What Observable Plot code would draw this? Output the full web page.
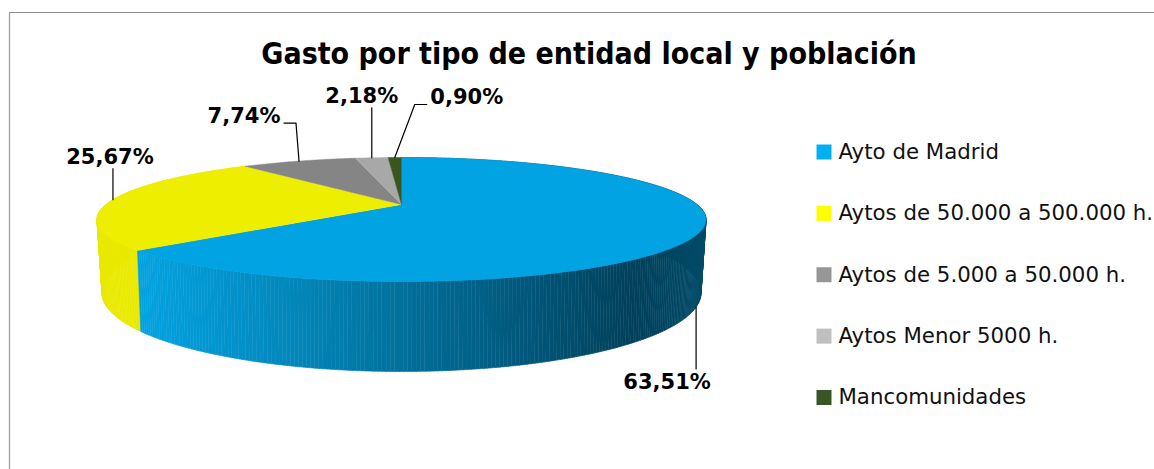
<!DOCTYPE html>
<html>
<head>
<meta charset="utf-8">
<script src="https://cdn.jsdelivr.net/npm/d3@7"></script>
<script src="https://cdn.jsdelivr.net/npm/@observablehq/plot@0.6"></script>
<style>
html,body{margin:0;padding:0;background:#fff}
svg{display:block}
</style>
</head>
<body>
<div id="chart"></div>
<script>
const categories = ["Ayto de Madrid","Aytos de 50.000 a 500.000 h.","Aytos de 5.000 a 50.000 h.","Aytos Menor 5000 h.","Mancomunidades"];
const shares = [63.51,25.67,7.74,2.18,0.90];
const shareLabels = ["63,51%","25,67%","7,74%","2,18%","0,90%"];
const title = "Gasto por tipo de entidad local y población";

const legendColors = ["#00b0f0","#ffff00","#969696","#bfbfbf","#375623"];
const topColors = ["#02a3e2","#eeee00","#858585","#a8a8a8","#3a5520"];
const wallColors = ["url(#wallBlue)","#eaea00","#7a7a7a","#999","#33491c"];

// Perspective view of the pie: top and bottom rims.
const topRim = {cx:401, cy:204, a:295.5, b:58.4, k:0.242};
const botRim = {cx:401, cy:272.6, a:290, b:73.8, k:0.25};
const project = (r, t) => {
  const u = Math.sin(t), v = Math.cos(t), w = 1 + r.k * v;
  return [r.cx + r.a * u / w, r.cy - r.b * v / w];
};
const total = d3.sum(shares);
const cum = d3.cumsum(shares);
const slices = shares.map((s, i) => {
  const t1 = (cum[i] / total) * 2 * Math.PI;
  const t0 = ((cum[i] - s) / total) * 2 * Math.PI;
  return {i, t0, t1, mid: (t0 + t1) / 2};
});
const arc = (r, t0, t1) => {
  const n = Math.max(4, Math.ceil((t1 - t0) * 90));
  return d3.range(n + 1).map(j => project(r, t0 + (t1 - t0) * j / n));
};

// Leader attachments: which rim, and the offsets from the rim point (layout only)
const leaders = [
  {rim: botRim, elbow: null, end: [0, 62], label: [-29, 75], anchor: "middle"},
  {rim: topRim, elbow: null, end: [0, -31], label: [-3, -42], anchor: "middle"},
  {rim: topRim, elbow: [-3, -38], end: [-15, -38], label: [-55, -45], anchor: "middle"},
  {rim: topRim, elbow: null, end: [0, -50], label: [-10, -62], anchor: "middle"},
  {rim: topRim, elbow: [20, -53], end: [32, -53], label: [72, -60], anchor: "middle"}
];

const W = 1154, H = 469;
const marks = [];

// frame
marks.push(Plot.ruleY([12], {x1: 9, x2: W, stroke: "#8c8c8c", strokeWidth: 1}));
marks.push(Plot.ruleX([9], {y1: 12, y2: H, stroke: "#a0a0a0", strokeWidth: 1.3}));

// gradient defs
marks.push(() => {
  const svgNS = "http://www.w3.org/2000/svg";
  const defs = document.createElementNS(svgNS, "defs");
  const g = document.createElementNS(svgNS, "linearGradient");
  g.setAttribute("id", "wallBlue");
  g.setAttribute("gradientUnits", "userSpaceOnUse");
  g.setAttribute("x1", 135); g.setAttribute("x2", 706);
  g.setAttribute("y1", 0); g.setAttribute("y2", 0);
  [[0,"#02a3e2"],[0.1,"#0299d5"],[0.3,"#0284b6"],[0.5,"#016c96"],[0.7,"#015578"],[0.87,"#00405a"],[1,"#004a68"]].forEach(([o,c]) => {
    const s = document.createElementNS(svgNS, "stop");
    s.setAttribute("offset", o); s.setAttribute("stop-color", c);
    g.appendChild(s);
  });
  defs.appendChild(g);
  return defs;
});

// walls: one quad per step along the rim, so that the union follows the silhouette
[1, 0].forEach(i => {
  const s = slices[i];
  const a = arc(topRim, s.t0, s.t1), b = arc(botRim, s.t0, s.t1);
  const pts = [];
  d3.range(a.length - 1).forEach(j => {
    [a[j], a[j + 1], b[j + 1], b[j]].forEach(p => pts.push({x: p[0], y: p[1], z: j}));
  });
  marks.push(Plot.line(pts, {x: "x", y: "y", z: "z", fill: wallColors[i], stroke: wallColors[i], strokeWidth: 0.6, curve: "linear-closed"}));
});

// top surface
const lineOpts = (fill) => ({x: d => d[0], y: d => d[1], fill, stroke: fill, strokeWidth: 0.5, curve: "linear"});
slices.forEach(s => {
  const poly = [[topRim.cx, topRim.cy], ...arc(topRim, s.t0, s.t1)];
  marks.push(Plot.line(poly, lineOpts(topColors[s.i])));
});

// leaders + labels
slices.forEach(s => {
  const l = leaders[s.i];
  const p = project(l.rim, s.mid);
  const path = [p];
  if (l.elbow) path.push([p[0] + l.elbow[0], p[1] + l.elbow[1]]);
  path.push([p[0] + l.end[0], p[1] + l.end[1]]);
  marks.push(Plot.line(path, {x: d => d[0], y: d => d[1], stroke: "#000", strokeWidth: 1.2}));
  marks.push(Plot.text([shareLabels[s.i]], {
    x: () => p[0] + l.label[0], y: () => p[1] + l.label[1], text: d => d,
    fontFamily: "DejaVu Sans", fontWeight: "bold", fontSize: 21, fill: "#000", textAnchor: l.anchor
  }));
});

// title
marks.push(Plot.text([title], {x: () => 588.5, y: () => 54, text: d => d,
  fontFamily: "DejaVu Sans Condensed, DejaVu Sans", fontWeight: "bold", fontSize: 30, fill: "#000"}));

// legend
const legendY = d3.scalePoint().domain(categories).range([151.5, 397]);
marks.push(Plot.dot(categories, {x: () => 823.5, y: d => legendY(d), symbol: "square", r: 8.46, fill: (d) => legendColors[categories.indexOf(d)], stroke: null}));
marks.push(Plot.text(categories, {x: () => 838, y: d => legendY(d), text: d => d, textAnchor: "start",
  fontFamily: "DejaVu Sans", fontSize: 21.3, fill: "#111"}));

const chart = Plot.plot({
  width: W, height: H,
  margin: 0,
  style: {background: "#fff"},
  x: {type: "identity", axis: null},
  y: {type: "identity", axis: null},
  color: {type: "identity"},
  marks
});
document.getElementById("chart").appendChild(chart);
</script>
</body>
</html>
